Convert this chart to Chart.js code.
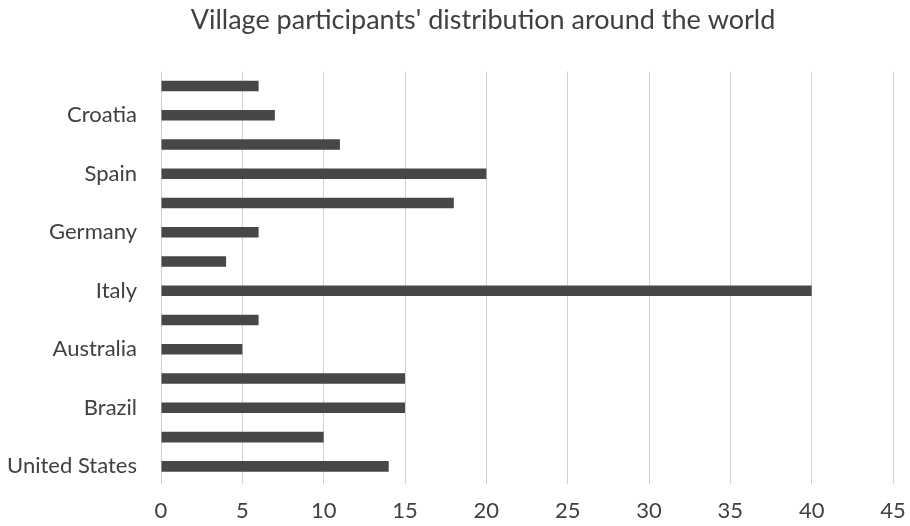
<!DOCTYPE html>
<html>
<head>
<meta charset="utf-8">
<script src="https://cdn.jsdelivr.net/npm/chart.js@4.4.1/dist/chart.umd.min.js"></script>
<style>
  html, body { margin: 0; padding: 0; background: #fff; }
  #wrap { width: 910px; height: 526px; }
</style>
</head>
<body>
<div id="wrap"><canvas id="myChart" width="910" height="526"></canvas></div>
<script>
'use strict';
// top to bottom, unlabeled rows are blank in the picture
let countries = ['', 'Croatia', '', 'Spain', '', 'Germany', '', 'Italy', '', 'Australia', '', 'Brazil', '', 'United States'];
let participants = [6, 7, 11, 20, 18, 6, 4, 40, 6, 5, 15, 15, 10, 14];
let xTicks = [0, 5, 10, 15, 20, 25, 30, 35, 40, 45];

// nudge the title a bit right, like the original
let shiftTitle = {
  id: 'shiftTitle',
  afterLayout: function (chart) {
    if (chart.titleBlock) chart.titleBlock.left = 56;
  }
};

let ctx = document.getElementById('myChart').getContext('2d');
let chart = new Chart(ctx, {
  type: 'bar',
  data: {
    labels: countries,
    datasets: [{
      label: 'Participants',
      data: participants,
      backgroundColor: '#474747',
      borderWidth: 0,
      categoryPercentage: 0.36,
      barPercentage: 1
    }]
  },
  plugins: [shiftTitle],
  options: {
    indexAxis: 'y',
    responsive: false,
    animation: false,
    layout: { padding: { left: 4, right: 0, top: 0, bottom: 4 } },
    plugins: {
      legend: { display: false },
      tooltip: { enabled: false },
      title: {
        display: true,
        text: "Village participants' distribution around the world",
        color: '#404040',
        font: { family: 'Lato', size: 27, weight: 'normal' },
        padding: { top: 4, bottom: 35 }
      }
    },
    scales: {
      x: {
        min: 0,
        max: 45,
        afterBuildTicks: function (axis) {
          axis.ticks = xTicks.map(v => ({ value: v }));
        },
        afterFit: function (axis) {
          axis.height = 41;
          axis.paddingRight = 17;
        },
        grid: { color: '#d0d0d0', lineWidth: 1, drawTicks: true, tickLength: 3 },
        border: { display: false },
        ticks: {
          color: '#404040',
          font: { family: 'Lato', size: 22 },
          padding: 14
        }
      },
      y: {
        afterFit: function (axis) {
          axis.width = 157;
        },
        grid: { display: false, drawTicks: false },
        border: { display: false },
        ticks: {
          color: '#404040',
          font: { family: 'Lato', size: 22 },
          padding: 24,
          autoSkip: false
        }
      }
    }
  }
});
</script>
</body>
</html>
